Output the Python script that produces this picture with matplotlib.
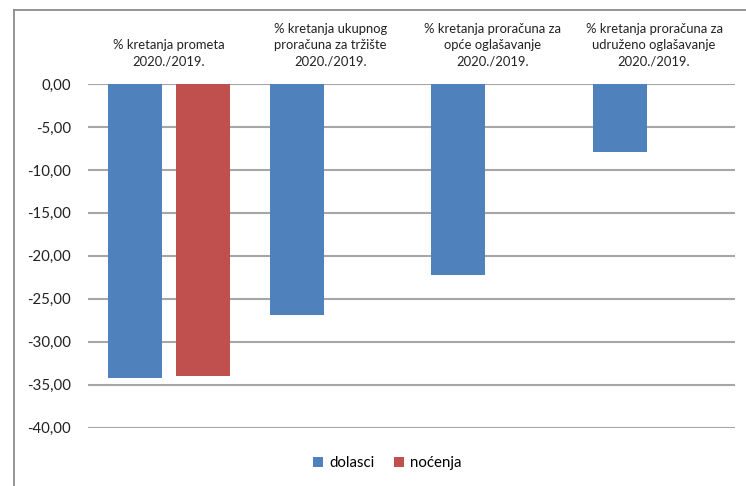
import numpy as np
import matplotlib
matplotlib.use("Agg")
import matplotlib.pyplot as plt
from matplotlib.lines import Line2D

plt.rcParams['font.family'] = ['Lato', 'DejaVu Sans']

# data
categories = [
    "% kretanja prometa\n2020./2019.",
    "% kretanja ukupnog\nproračuna za tržište\n2020./2019.",
    "% kretanja proračuna za\nopće oglašavanje\n2020./2019.",
    "% kretanja proračuna za\nudruženo oglašavanje\n2020./2019.",
]
dolasci = [-34.2, -26.9, -22.2, -7.9]
nocenja = [-34.0, np.nan, np.nan, np.nan]
series_names = ["dolasci", "noćenja"]
yticks = [0, -5, -10, -15, -20, -25, -30, -35, -40]

blue = "#4F81BD"
red = "#C0504D"

fig = plt.figure(figsize=(7.46, 4.86), dpi=100)
ax = fig.add_axes([88 / 746, 1 - 427.7 / 486, (735 - 88) / 746, (427.7 - 84) / 486])

x = np.arange(len(categories)) + 0.5
w = 0.334
off = 0.21
b1 = ax.bar(x - off, dolasci, w, color=blue, label=series_names[0], zorder=3)
b2 = ax.bar(x + off, nocenja, w, color=red, label=series_names[1], zorder=3)

ax.set_xlim(0, len(categories))
ax.set_ylim(-40, 0)
ax.set_yticks(yticks)
ax.set_yticklabels([f"{v:.2f}".replace(".", ",") for v in yticks], fontsize=10.8, color="#222222")
ax.tick_params(axis="y", length=0, pad=12)
ax.set_xticks([])
for s in ax.spines.values():
    s.set_visible(False)
ax.yaxis.grid(True, color="#a6a6a6", linewidth=1.5, zorder=0)
ax.set_axisbelow(True)

for xi, lab in zip(x, categories):
    ax.annotate(lab, xy=(xi, 0), xytext=(0, 17), textcoords="offset pixels",
                ha="center", va="bottom", multialignment="center",
                fontsize=9.4, color="#222222", linespacing=1.42,
                annotation_clip=False)

fig.legend(handles=[b1, b2], loc="center", bbox_to_anchor=(0.519, 1 - 463 / 486),
           ncol=2, frameon=False, fontsize=10.8, handlelength=0.7, handleheight=0.7,
           handletextpad=0.4, columnspacing=1.3)

# chart border (left and top only visible in the reference)
fig.add_artist(Line2D([13.5 / 746, 13.5 / 746], [0, 1 - 10 / 486],
                      transform=fig.transFigure, color="#8c8c8c", linewidth=1.3))
fig.add_artist(Line2D([13.5 / 746, 1], [1 - 10 / 486, 1 - 10 / 486],
                      transform=fig.transFigure, color="#8c8c8c", linewidth=1.3))

fig.savefig("out.png", dpi=100)
